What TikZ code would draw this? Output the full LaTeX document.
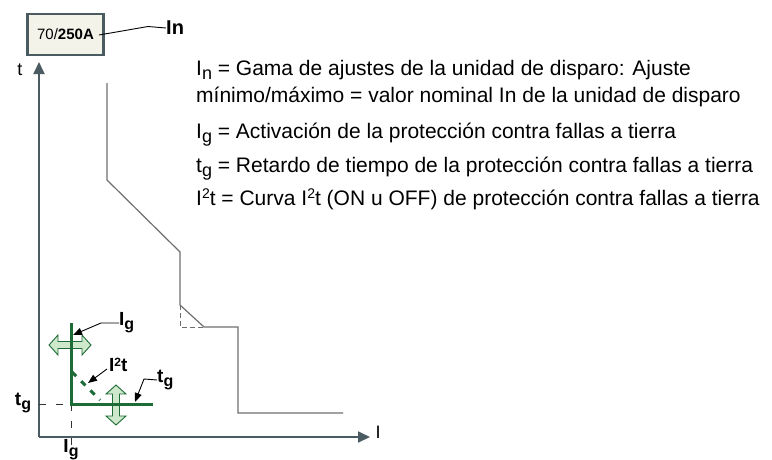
\documentclass[tikz,border=0pt]{standalone}
\usepackage{fontspec}
\setmainfont{Liberation Sans}
\usetikzlibrary{arrows.meta}
\definecolor{axisc}{HTML}{4B5B62}
\definecolor{curvec}{HTML}{6E6E6E}
\definecolor{gfc}{HTML}{1D6B36}
\definecolor{gfl}{HTML}{CDE8CB}
\definecolor{boxf}{HTML}{F4F3EA}
\newcommand\lsub[2]{\raisebox{-0.42ex}{\fontsize{#1}{#1}\selectfont #2}}
\newcommand\hsup[2]{\raisebox{0.55ex}{\fontsize{#1}{#1}\selectfont #2}}
\begin{document}
\begin{tikzpicture}[x=1pt,y=-1pt,
  txt/.style={anchor=base west,inner sep=0pt,font=\fontsize{21}{21}\selectfont},
  lbl/.style={inner sep=0pt,font=\fontsize{19}{19}\selectfont\bfseries},
  axis/.style={draw=axisc,line width=1.8pt,-{Triangle[length=12pt,width=11pt]}},
  curve/.style={draw=curvec,line width=1.2pt,line join=miter},
  gline/.style={draw=gfc,line width=3pt},
  lead/.style={draw=black,line width=0.9pt,-{Triangle[length=9pt,width=7pt]}},
  dsh/.style={draw=black!80,line width=0.9pt,dash pattern=on 7pt off 10pt},
  darrow/.style={fill=gfl,draw=gfc,line width=0.9pt,line join=miter}]
\useasboundingbox (0,0) rectangle (772,459);
% rating box
\node[draw=axisc,line width=2.4pt,fill=boxf,minimum width=76pt,minimum height=41pt,inner sep=0pt,
  font=\fontsize{15}{15}\selectfont] (box) at (65.5,34.5) {70/\textbf{250A}};
\node[lbl,anchor=west,font=\fontsize{20}{20}\selectfont\bfseries] (In) at (166,28) {In};
\coordinate (boxr) at (99,35);
\draw[black,line width=0.9pt] (boxr) -- (148,26.5) -- (In.west);
% axes
\coordinate (org) at (39,437);
\coordinate (ytop) at (39,62);
\coordinate (xend) at (370,437);
\draw[axis] (org) -- (ytop);
\draw[axis] (org) -- (xend);
\node[inner sep=0pt,font=\fontsize{18}{18}\selectfont] (tlab) at (20,70) {t};
\node[inner sep=0pt,font=\fontsize{18}{18}\selectfont] (Ilab) at (378,432) {I};
% trip curve
\draw[curve] (107,83) -- (107,180) -- (180,252) -- (180,305) -- (204,327) -- (238,327) -- (238,413) -- (343,413);
\draw[curve,dash pattern=on 5pt off 3pt,line width=1pt] (180,305) -- (180,327) -- (204,327);
% explanation text
\node[txt] (l1) at (196,75) {I\lsub{18}{n} = Gama de ajustes de la unidad de disparo: Ajuste};
\node[txt] (l2) at (196,102) {mínimo/máximo = valor nominal In de la unidad de disparo};
\node[txt] (l3) at (196,138) {I\lsub{18}{g} = Activación de la protección contra fallas a tierra};
\node[txt] (l4) at (196,172) {t\lsub{18}{g} = Retardo de tiempo de la protección contra fallas a tierra};
\node[txt] (l5) at (196,205) {I\hsup{14}{2}t = Curva I\hsup{14}{2}t (ON u OFF) de protección contra fallas a tierra};
% ground fault: double arrows
\path[darrow] (49,345) -- (58,335) -- (58,341.5) -- (82,341.5) -- (82,335) -- (91,345)
  -- (82,355) -- (82,348.5) -- (58,348.5) -- (58,355) -- cycle;
\path[darrow] (116,385) -- (126,394) -- (119.5,394) -- (119.5,416) -- (126,416) -- (116,425)
  -- (106,416) -- (112.5,416) -- (112.5,394) -- (106,394) -- cycle;
% dashed reference lines
\coordinate (gc) at (71,404);
\draw[dsh] (39,404) -- (gc);
\draw[dsh] (gc) -- (71,445);
% green curve
\draw[gline] (71,323) -- (gc) -- (153,404);
\draw[gfc,line width=3pt,dash pattern=on 6pt off 7pt] (72,372) -- (100,400);
% labels
\node[lbl] (tgl) at (23,403) {t\lsub{16}{g}};
\node[lbl] (Igb) at (71,450) {I\lsub{16}{g}};
\node[lbl,anchor=west] (Igu) at (119,323) {I\lsub{16}{g}};
\node[lbl,anchor=west] (I2t) at (109,365) {I\hsup{12}{2}t};
\node[lbl,anchor=west] (tgr) at (157,380) {t\lsub{16}{g}};
\coordinate (IguT) at (73,335);
\coordinate (I2tT) at (88,383);
\coordinate (tgrT) at (135,402);
\draw[lead] (Igu.west) -- (101,323) -- (IguT);
\draw[lead] (I2t.west) ++(-2,4) -- (I2tT);
\draw[lead] (tgr.west) -- (144,379) -- (tgrT);
\end{tikzpicture}
\end{document}
